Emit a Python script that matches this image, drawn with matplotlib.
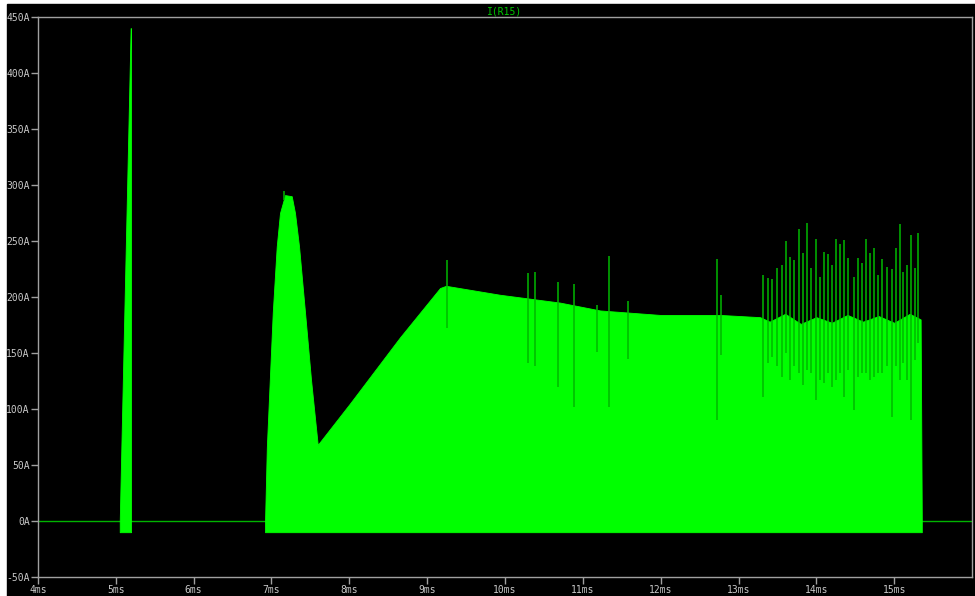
import matplotlib
matplotlib.use("Agg")
import matplotlib.pyplot as plt
from matplotlib.patches import Rectangle

# I(R15) envelope, time in ms, current in A
pulse1_t = [5.05, 5.19, 5.195]
pulse1_hi = [0, 440, 440]
pulse1_lo = [-10, -10, -10]

burst_t = [6.917, 6.94, 7.016, 7.067, 7.109, 7.174, 7.26, 7.302, 7.354, 7.431,
           7.508, 7.594, 8.009, 8.651, 9.165, 9.242, 9.936, 10.707, 11.221,
           11.992, 12.763, 13.277, 13.4, 13.6, 13.8, 14.0, 14.2, 14.4, 14.6,
           14.8, 15.0, 15.2, 15.34, 15.355]
burst_hi = [0, 66, 186, 245, 275, 291, 290, 275, 245, 186,
            126, 68, 105, 164, 208, 210, 202, 195, 188,
            184, 184, 182, 178, 185, 176, 182, 177, 184, 178,
            183, 177, 185, 180, 0]
burst_lo = [-10] * len(burst_t)

# narrow spikes / dips (time, top, bottom)
spike_t = [7.165, 9.251, 10.292, 10.386, 10.681, 10.887, 11.179, 11.337, 11.581,
           12.724, 12.775, 13.319, 13.375, 13.434, 13.491, 13.555, 13.611, 13.662,
           13.717, 13.774, 13.833, 13.881, 13.932, 13.992, 14.047, 14.099, 14.150,
           14.202, 14.257, 14.308, 14.356, 14.411, 14.484, 14.536, 14.587, 14.635,
           14.686, 14.741, 14.797, 14.848, 14.905, 14.976, 15.028, 15.079, 15.118,
           15.169, 15.213, 15.268, 15.311]
spike_top = [295, 233, 221, 222, 213, 212, 193, 237, 196,
             234, 202, 220, 217, 216, 226, 229, 250, 236,
             233, 261, 239, 266, 226, 252, 218, 240, 238,
             229, 252, 247, 251, 235, 218, 235, 230, 252,
             239, 244, 220, 234, 227, 225, 244, 265, 222,
             229, 255, 226, 257]
spike_bot = [287, 172, 141, 138, 120, 102, 151, 102, 145,
             90, 148, 111, 141, 146, 138, 129, 150, 126,
             138, 132, 121, 135, 132, 108, 126, 123, 132,
             120, 126, 132, 111, 135, 99, 129, 132, 132,
             126, 129, 132, 132, 138, 93, 138, 126, 141,
             126, 90, 144, 159]

x_ticks = [4, 5, 6, 7, 8, 9, 10, 11, 12, 13, 14, 15]
y_ticks = [-50, 0, 50, 100, 150, 200, 250, 300, 350, 400, 450]

W, H = 975, 596
fig = plt.figure(figsize=(W / 100, H / 100), dpi=100, facecolor="white")
fig.patches.append(Rectangle((7 / W, 0), 1 - 7 / W, 1 - 4 / H,
                             transform=fig.transFigure, color="black", zorder=-1))
ax = fig.add_axes([38 / W, 1 - 577 / H, (972 - 38) / W, (577 - 17) / H])
ax.set_facecolor("black")

green = "#00ff00"
ax.axhline(0, color="#00b400", lw=1, zorder=1)
ax.fill_between(pulse1_t, pulse1_lo, pulse1_hi, color=green, lw=0.6, edgecolor=green, zorder=2)
ax.fill_between(burst_t, burst_lo, burst_hi, color=green, lw=0.6, edgecolor=green, zorder=2)
ax.vlines(spike_t, spike_bot, spike_top, color="#00b800", lw=1.1, zorder=3)

ax.set_xlim(4, 16)
ax.set_ylim(-50, 450)
ax.set_xticks(x_ticks)
ax.set_xticklabels([f"{v}ms" for v in x_ticks])
ax.set_yticks(y_ticks)
ax.set_yticklabels([f"{v}A" for v in y_ticks])

grey = "#a0a0a0"
for s in ax.spines.values():
    s.set_color(grey)
    s.set_linewidth(1)
ax.tick_params(colors=grey, labelcolor="#c8c8c8", length=5, width=1, direction="out",
               labelsize=7, pad=1)
for lab in ax.get_xticklabels() + ax.get_yticklabels():
    lab.set_family("DejaVu Sans Mono")

ax.set_title("I(R15)", color="#00c800", fontsize=7, family="DejaVu Sans Mono", pad=2)

fig.savefig("out.png", dpi=100, facecolor=fig.get_facecolor())
